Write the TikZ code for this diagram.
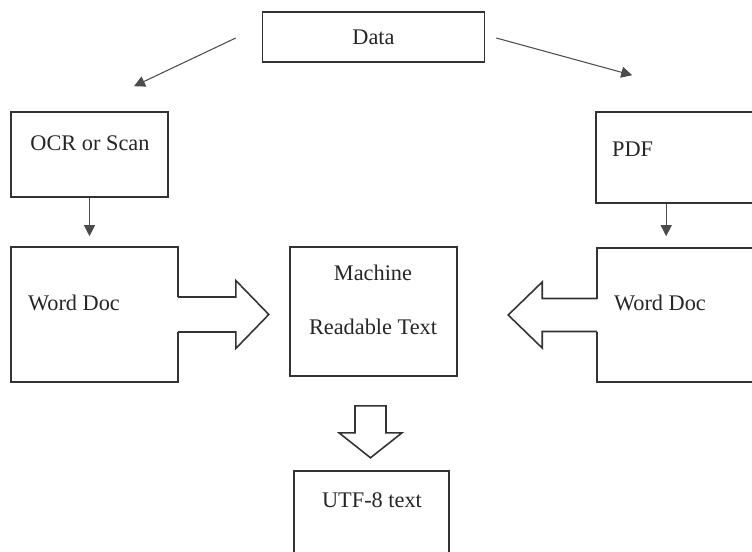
\documentclass[tikz,border=0pt]{standalone}
\usepackage{fontspec}
\setmainfont{Liberation Serif}
\usetikzlibrary{positioning, arrows.meta, calc}

\begin{document}
\begin{tikzpicture}[
    every node/.style={font=\fontsize{12.7}{15}\selectfont, text=black!85},
    box/.style={rectangle, draw=black!80, line width=0.9pt, fill=white, inner sep=0pt},
    txt/.style={inner sep=1pt},
    arrow/.style={-{Triangle[length=2.2mm, width=2.2mm]}, draw=black!70, line width=0.6pt},
    blockarrow/.style={draw=black!80, line width=0.9pt, line join=miter}]

  \useasboundingbox (0,0) rectangle (15.04,-11.02);
  \clip (0,0) rectangle (15.04,-11.02);

  \node[box, minimum width=4.44cm, minimum height=1.0cm] (data) at (7.47,-0.74) {Data};
  \node[box, minimum width=3.14cm, minimum height=1.70cm] (ocr) at (1.79,-3.09) {};
  \node[box, minimum width=3.6cm, minimum height=1.82cm] (pdf) at (13.72,-3.15) {};
  \node[box, minimum width=3.34cm, minimum height=2.70cm] (wordl) at (1.89,-6.29) {};
  \node[box, minimum width=3.34cm, minimum height=2.58cm] (mach) at (7.47,-6.23) {};
  \node[box, minimum width=3.6cm, minimum height=2.68cm] (wordr) at (13.74,-6.30) {};
  \node[box, minimum width=3.10cm, minimum height=2.4cm] (utf) at (7.43,-10.62) {};

  % texts inside the boxes
  \node[txt] (ocrtxt) at (1.80,-2.86) {OCR or Scan};
  \node[txt, anchor=west] (pdftxt) at (12.20,-2.98) {PDF};
  \node[txt] (wordltxt) at (1.48,-6.06) {Word Doc};
  \node[txt, align=center] (machtxt) at (7.46,-6.0) {Machine\\[0.55cm]Readable Text};
  \node[txt] (wordrtxt) at (13.20,-6.06) {Word Doc};
  \node[txt] (utftxt) at (7.44,-10.0) {UTF-8 text};

  \draw[arrow] ($(data.west)+(-0.52,-0.02)$) -- ($(ocr.north)+(0.89,0.5)$);
  \draw[arrow] ($(data.east)+(0.22,-0.02)$) -- ($(pdf.north west)+(0.74,0.72)$);
  \draw[arrow, shorten >=0.2cm] (ocr.south) -- (ocr.south |- wordl.north);
  \coordinate (pdfout) at ($(pdf.south west)+(1.42,0)$);
  \draw[arrow, shorten >=0.22cm] (pdfout) -- (pdfout |- wordr.north);

  % block arrows, opened into the word boxes
  \fill[white] ($(wordl.east)+(-0.06,0.35)$) rectangle ($(wordl.east)+(0.1,-0.35)$);
  \draw[blockarrow] ($(wordl.east)+(-0.016,0.35)$) -- ($(wordl.east)+(1.14,0.35)$) -- ($(wordl.east)+(1.14,0.68)$)
    -- ($(wordl.east)+(1.8,0)$) -- ($(wordl.east)+(1.14,-0.68)$) -- ($(wordl.east)+(1.14,-0.35)$) -- ($(wordl.east)+(-0.016,-0.35)$);

  \fill[white] ($(wordr.west)+(0.06,0.33)$) rectangle ($(wordr.west)+(-0.1,-0.33)$);
  \draw[blockarrow] ($(wordr.west)+(0.016,0.33)$) -- ($(wordr.west)+(-1.08,0.33)$) -- ($(wordr.west)+(-1.08,0.66)$)
    -- ($(wordr.west)+(-1.76,0)$) -- ($(wordr.west)+(-1.08,-0.66)$) -- ($(wordr.west)+(-1.08,-0.33)$) -- ($(wordr.west)+(0.016,-0.33)$);

  \coordinate (dtail) at ($(mach.south)+(-0.06,-0.58)$);
  \draw[blockarrow] ($(dtail)+(-0.31,0)$) -- ++(0,-0.54) -- ++(-0.32,0) -- ($(dtail)+(0,-1.04)$)
    -- ($(dtail)+(0.63,-0.54)$) -- ++(-0.32,0) -- ($(dtail)+(0.31,0)$) -- cycle;
\end{tikzpicture}
\end{document}
